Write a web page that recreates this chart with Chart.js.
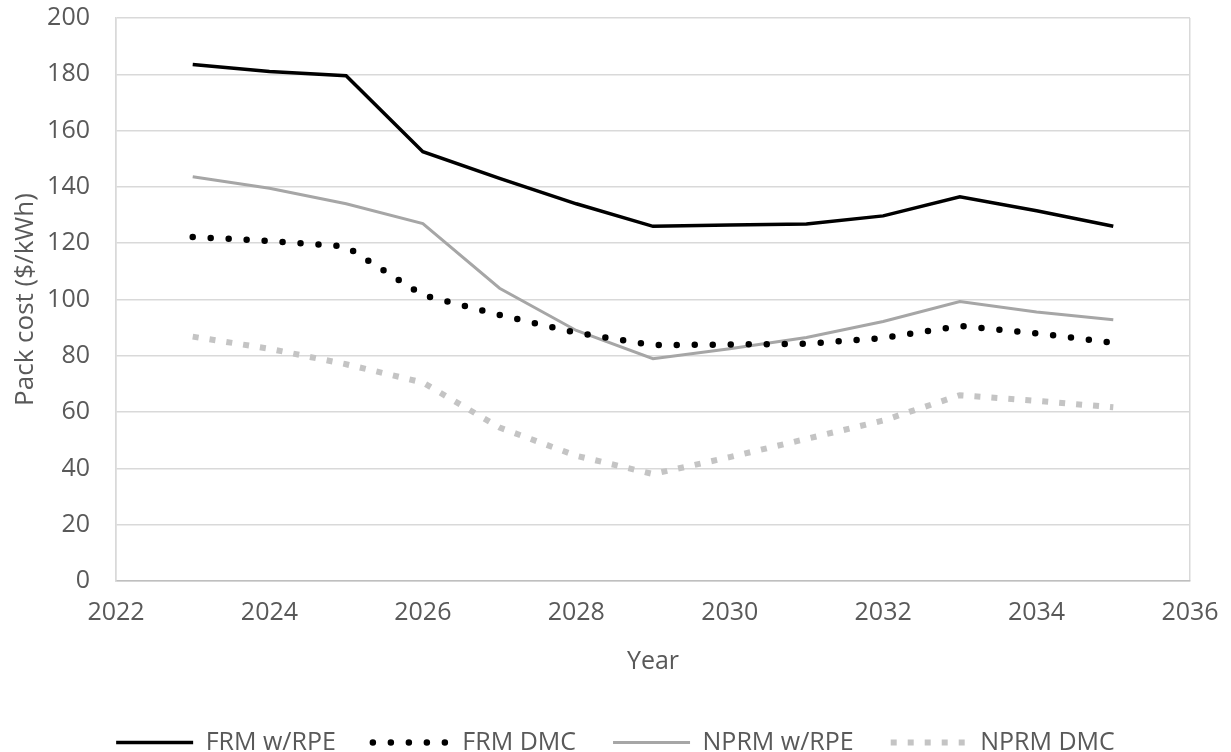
<!DOCTYPE html>
<html>
<head>
<meta charset="utf-8">
<script src="https://cdn.jsdelivr.net/npm/chart.js@4.4.1/dist/chart.umd.min.js"></script>
<style>
  body { margin: 0; background: #fff; }
  #wrap { width: 1231px; height: 752px; }
</style>
</head>
<body>
<div id="wrap"><canvas id="mycanvas" width="1231" height="752"></canvas></div>
<script>
var years = [2023, 2024, 2025, 2026, 2027, 2028, 2029, 2030, 2031, 2032, 2033, 2034, 2035];
var frmRpe  = [183.5, 181, 179.5, 152.5, 143, 134, 126, 126.5, 126.8, 129.7, 136.5, 131.5, 126];
var frmDmc  = [122.2, 120.8, 118.8, 101.5, 94.5, 88.2, 83.8, 84, 84.3, 86.3, 90.6, 88, 84.6];
var nprmRpe = [143.6, 139.5, 134, 127, 104, 89, 79, 82.5, 86.5, 92.2, 99.3, 95.6, 92.8];
var nprmDmc = [86.8, 82.5, 77, 70.5, 54.5, 44.5, 38, 44, 50.5, 57, 66, 64, 61.7];
var yTicks = [0, 20, 40, 60, 80, 100, 120, 140, 160, 180, 200];
var xTicks = [2022, 2024, 2026, 2028, 2030, 2032, 2034, 2036];

function pts(vals) {
    var out = [];
    for (var i in years) {
        out.push({x: years[i], y: vals[i]});
    }
    return out;
}

var font = "'Open Sans', 'Liberation Sans', sans-serif";
var txt = "#595959";
var gridCol = "#d9d9d9";

var Data = {
    datasets: [{
        label: "FRM w/RPE",
        data: pts(frmRpe),
        borderColor: "#000000",
        backgroundColor: "#000000",
        borderWidth: 3.5,
        fill: false
    }, {
        label: "FRM DMC",
        data: pts(frmDmc),
        borderColor: "#000000",
        backgroundColor: "#000000",
        borderWidth: 6.5,
        borderCapStyle: "round",
        borderDash: [0, 18],
        fill: false
    }, {
        label: "NPRM w/RPE",
        data: pts(nprmRpe),
        borderColor: "#a6a6a6",
        backgroundColor: "#a6a6a6",
        borderWidth: 3,
        fill: false
    }, {
        label: "NPRM DMC",
        data: pts(nprmDmc),
        borderColor: "#c4c4c4",
        backgroundColor: "#c4c4c4",
        borderWidth: 6,
        borderDash: [6, 11],
        fill: false
    }]
};

var ctx = document.getElementById("mycanvas");
var myNewChart = new Chart(ctx, {
    type: "line",
    data: Data,
    options: {
        responsive: false,
        animation: false,
        layout: { padding: { left: 0, right: 0, top: 18, bottom: -13 } },
        elements: { point: { radius: 0, hoverRadius: 0 }, line: { tension: 0 } },
        scales: {
            x: {
                type: "linear",
                min: 2022,
                max: 2036,
                afterBuildTicks: function (axis) {
                    axis.ticks = xTicks.map(function (v) { return {value: v}; });
                },
                afterFit: function (s) {
                    s.height = 112;
                    s.paddingLeft = 0;
                    s.paddingRight = 41;
                },
                ticks: {
                    color: txt,
                    font: { family: font, size: 25 },
                    padding: 17,
                    maxRotation: 0,
                    callback: function (v) { return String(v); }
                },
                grid: {
                    drawTicks: false,
                    color: function (c) {
                        return (c.tick && (c.tick.value === 2022 || c.tick.value === 2036)) ? gridCol : "rgba(0,0,0,0)";
                    },
                    lineWidth: 1.5
                },
                border: { display: true, color: "#bfbfbf", width: 1.5 },
                title: {
                    display: true,
                    text: "Year",
                    color: txt,
                    font: { family: font, size: 25 },
                    padding: { top: 4, bottom: 16 }
                }
            },
            y: {
                min: 0,
                max: 200,
                afterBuildTicks: function (axis) {
                    axis.ticks = yTicks.map(function (v) { return {value: v}; });
                },
                afterFit: function (s) {
                    s.width = 116;
                    s.paddingTop = 0;
                    s.paddingBottom = 0;
                },
                ticks: {
                    color: txt,
                    font: { family: font, size: 25 },
                    padding: 26
                },
                grid: { drawTicks: false, color: gridCol, lineWidth: 1.5 },
                border: { display: true, color: gridCol, width: 1.5 },
                title: {
                    display: true,
                    text: "Pack cost ($/kWh)",
                    color: txt,
                    font: { family: font, size: 26 },
                    padding: { top: 10, bottom: 6 }
                }
            }
        },
        plugins: {
            legend: {
                position: "bottom",
                labels: {
                    usePointStyle: true,
                    pointStyle: "line",
                    pointStyleWidth: 77,
                    color: txt,
                    font: { family: font, size: 25 },
                    padding: 37,
                    generateLabels: function (chart) {
                        return chart.data.datasets.map(function (ds, i) {
                            return {
                                text: ds.label,
                                datasetIndex: i,
                                fillStyle: ds.borderColor,
                                strokeStyle: ds.borderColor,
                                lineWidth: ds.borderWidth,
                                lineDash: ds.borderDash || [],
                                lineCap: ds.borderCapStyle || "butt",
                                pointStyle: "line",
                                fontColor: txt,
                                hidden: false
                            };
                        });
                    }
                }
            },
            tooltip: { enabled: false }
        }
    }
});
</script>
</body>
</html>
